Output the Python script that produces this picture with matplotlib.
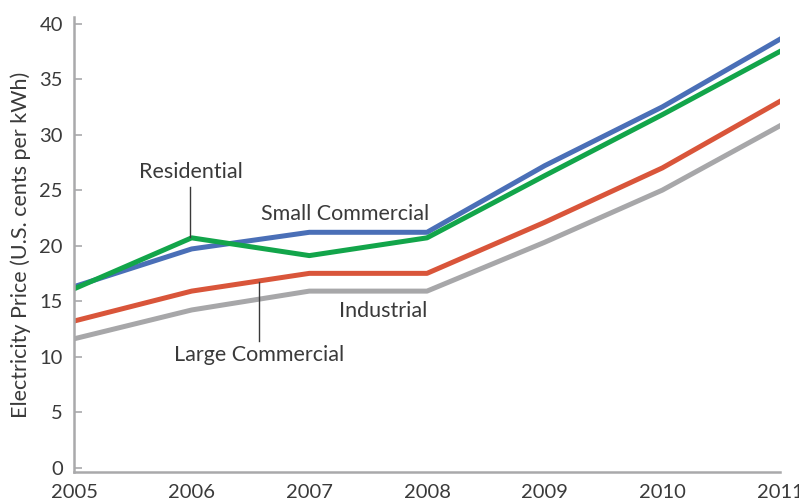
import matplotlib.pyplot as plt

years = [2005, 2006, 2007, 2008, 2009, 2010, 2011]
small_commercial = [16.3, 19.7, 21.2, 21.2, 27.2, 32.5, 38.6]
residential = [16.1, 20.7, 19.1, 20.7, 26.3, 31.8, 37.5]
large_commercial = [13.2, 15.9, 17.5, 17.5, 22.1, 27.0, 33.0]
industrial = [11.6, 14.2, 15.9, 15.9, 20.3, 25.0, 30.8]

plt.rcParams['font.family'] = ['Lato', 'DejaVu Sans']
text_col = '#3a3a3a'
axis_col = '#a9a9ab'

fig = plt.figure(figsize=(7.99, 5.04), dpi=100)
ax = fig.add_axes([74 / 799, 1 - 472 / 504, (780 - 74) / 799, (472 - 17) / 504])

lw = 3.6
ax.plot(years, industrial, color='#a7a7a9', lw=lw, solid_joinstyle='round')
ax.plot(years, large_commercial, color='#d9553a', lw=lw, solid_joinstyle='round')
ax.plot(years, small_commercial, color='#4a6fb7', lw=lw, solid_joinstyle='round')
ax.plot(years, residential, color='#12a54a', lw=lw, solid_joinstyle='round')

ax.set_xlim(2005, 2011)
ax.set_ylim(-0.4, 40.6)
ax.set_yticks(range(0, 41, 5))
ax.set_xticks(years)

for s in ['top', 'right']:
    ax.spines[s].set_visible(False)
for s in ['left', 'bottom']:
    ax.spines[s].set_color(axis_col)
    ax.spines[s].set_linewidth(1.8)

ax.tick_params(axis='y', direction='in', length=6, width=1.2, color=axis_col,
               labelsize=14.5, labelcolor=text_col, pad=8)
ax.tick_params(axis='x', length=0, labelsize=14.5, labelcolor=text_col, pad=9)

ax.set_ylabel('Electricity Price (U.S. cents per kWh)', fontsize=15.5, color=text_col, labelpad=6)

# series labels
fs = 15.5
ax.text(2005.994, 26.63, 'Residential', ha='center', va='center', fontsize=fs, color=text_col)
ax.plot([2006 - 0.01, 2006 - 0.01], [20.8, 25.3], color=text_col, lw=1)
ax.text(2007.30, 22.85, 'Small Commercial', ha='center', va='center', fontsize=fs, color=text_col)
ax.text(2007.63, 14.11, 'Industrial', ha='center', va='center', fontsize=fs, color=text_col)
ax.text(2006.572, 10.14, 'Large Commercial', ha='center', va='center', fontsize=fs, color=text_col)
ax.plot([2006.57, 2006.57], [11.4, 16.7], color=text_col, lw=1)

fig.savefig('out.png', dpi=100)
